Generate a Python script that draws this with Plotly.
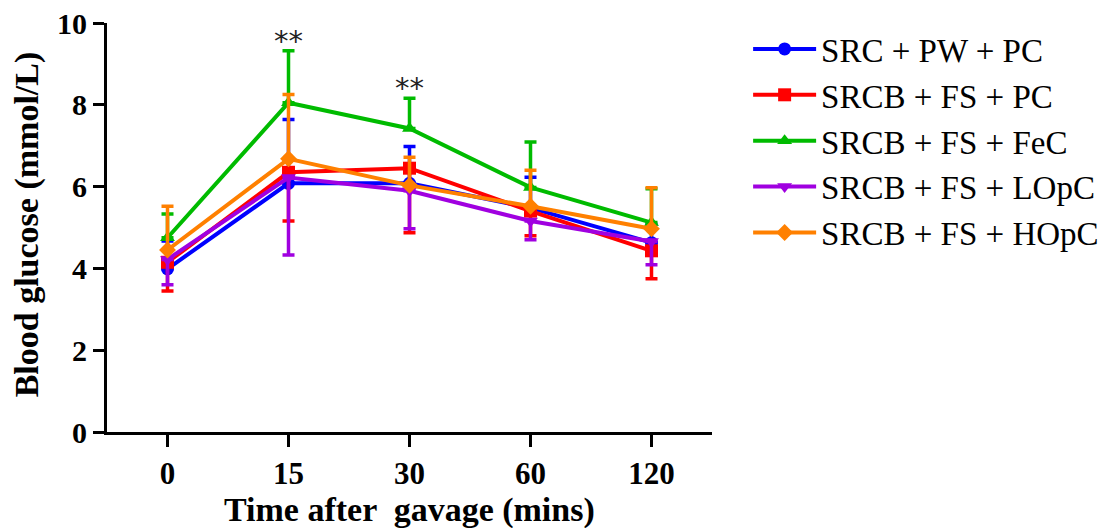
import plotly.graph_objects as go

times = ["0", "15", "30", "60", "120"]

names = ["SRC + PW + PC", "SRCB + FS + PC", "SRCB + FS + FeC",
         "SRCB + FS + LOpC", "SRCB + FS + HOpC"]

blue_vals = [3.99, 6.08, 6.08, 5.48, 4.63]
red_vals = [4.15, 6.35, 6.45, 5.40, 4.43]
green_vals = [4.75, 8.05, 7.42, 5.98, 5.12]
purple_vals = [4.22, 6.22, 5.90, 5.16, 4.66]
orange_vals = [4.45, 6.68, 6.03, 5.52, 4.97]

# one-sided error bars (upper, lower)
blue_up = [0.68, 1.56, 0.90, 0.75, 0.45]
blue_dn = [0, 0, 0, 0, 0]
red_up = [0, 0, 0, 0, 0]
red_dn = [0.70, 1.19, 1.58, 0.60, 0.68]
green_up = [0.58, 1.27, 0.74, 1.11, 0.83]
green_dn = [0, 0, 0, 0, 0]
purple_up = [0, 0, 0, 0, 0]
purple_dn = [0.62, 1.89, 0.93, 0.46, 0.57]
orange_up = [1.07, 1.57, 0.69, 0.88, 1.00]
orange_dn = [0, 0, 0, 0, 0]

colors = ["#0000FF", "#FF0000", "#00BB00", "#A000E0", "#FF8000"]
symbols = ["circle", "square", "triangle-up", "triangle-down", "diamond"]
values = [blue_vals, red_vals, green_vals, purple_vals, orange_vals]
ups = [blue_up, red_up, green_up, purple_up, orange_up]
dns = [blue_dn, red_dn, green_dn, purple_dn, orange_dn]

sig_x = ["15", "30"]
sig_y = [9.32, 8.16]
sig_text = ["**", "**"]

fig = go.Figure()
for i in range(5):
    fig.add_trace(go.Scatter(
        x=times, y=values[i], name=names[i], mode="lines+markers",
        legendgroup=f"g{i}",
        line=dict(color=colors[i], width=4),
        marker=dict(symbol=symbols[i], size=13, color=colors[i]),
        error_y=dict(type="data", symmetric=False, array=ups[i],
                     arrayminus=dns[i], color=colors[i], thickness=3.5, width=6),
    ))

for sx, sy, st in zip(sig_x, sig_y, sig_text):
    fig.add_annotation(x=times.index(sx), y=sy, text=st, showarrow=False,
                       yshift=10, xref="x", yref="y",
                       font=dict(family="DejaVu Sans", size=29, color="#222"))

serif = "Liberation Serif"
fig.add_annotation(xref="paper", yref="paper", x=0.5, y=-0.19,
                   xanchor="center", yanchor="middle", showarrow=False,
                   text="Time after  gavage (mins)",
                   font=dict(family=serif, size=34, color="black", weight="bold"))
fig.add_annotation(xref="paper", yref="paper", x=-0.132, y=0.508,
                   xanchor="center", yanchor="middle", showarrow=False,
                   textangle=-90, text="Blood glucose (mmol/L)",
                   font=dict(family=serif, size=34, color="black", weight="bold"))

# page body has an 8px margin, so the figure is 8px smaller and margins shifted
fig.update_layout(
    width=1098, height=520,
    margin=dict(l=99, r=394, t=15, b=96, autoexpand=False),
    plot_bgcolor="white", paper_bgcolor="white",
    font=dict(family=serif, color="black"),
    legend=dict(x=1.0597, y=1.005, xanchor="left", yanchor="top",
                font=dict(family=serif, size=33, color="black"),
                tracegroupgap=0, itemwidth=63,
                bgcolor="rgba(0,0,0,0)"),
    xaxis=dict(type="category", range=[-0.5, 4.5], showline=True,
               linecolor="black", linewidth=3, ticks="outside", ticklen=12,
               tickwidth=3, tickcolor="black", showgrid=False, zeroline=False,
               automargin=False, ticklabeloverflow="allow",
               tickfont=dict(family=serif, size=31, color="black", weight="bold")),
    yaxis=dict(range=[0, 10], tickvals=[0, 2, 4, 6, 8, 10], showline=True,
               linecolor="black", linewidth=3, ticks="outside", ticklen=11,
               tickwidth=3, tickcolor="black", showgrid=False, zeroline=False,
               automargin=False, ticklabeloverflow="allow",
               tickfont=dict(family=serif, size=30, color="black", weight="bold")),
)

fig.write_html("out.html")
